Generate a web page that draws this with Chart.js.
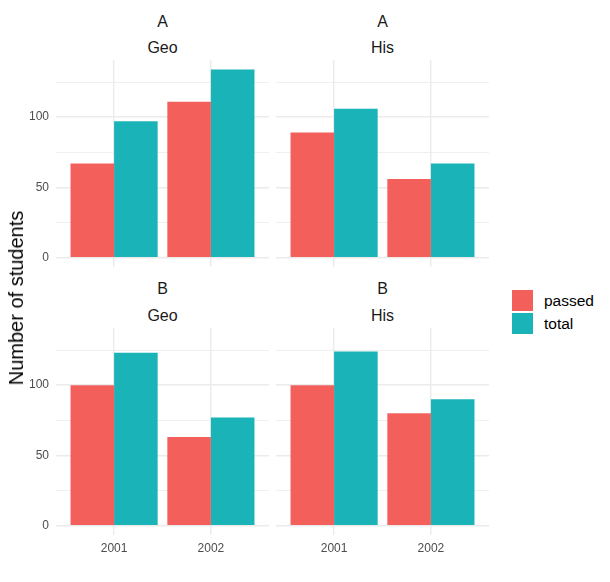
<!DOCTYPE html>
<html>
<head>
<meta charset="utf-8">
<script src="https://cdn.jsdelivr.net/npm/chart.js@4.4.1/dist/chart.umd.min.js"></script>
<style>
  body { margin: 0; background: #fff; font-family: 'Liberation Sans', Arial, sans-serif; }
  #wrap { position: relative; width: 610px; height: 582px; overflow: hidden; }
  canvas { position: absolute; }
  .strip { position: absolute; text-align: center; font-size: 16px; line-height: 16px; color: #1a1a1a; }
  #ytitle { position: absolute; left: 16px; top: 298px; font-size: 20px; line-height: 20px; color: #000;
            white-space: nowrap; transform: translate(-50%, -50%) rotate(-90deg); }
  #legend { position: absolute; left: 512px; top: 290px; }
  .key { display: flex; align-items: center; height: 21px; margin-bottom: 2px; font-size: 15.5px; color: #000; }
  .swatch { width: 21px; height: 21px; margin-right: 11px; }
</style>
</head>
<body>
<div id="wrap">
  <canvas id="aGeo" width="269" height="207" style="left:0;top:60px"></canvas>
  <canvas id="aHis" width="213" height="207" style="left:276px;top:60px"></canvas>
  <canvas id="bGeo" width="269" height="232" style="left:0;top:328px"></canvas>
  <canvas id="bHis" width="213" height="232" style="left:276px;top:328px"></canvas>

  <div class="strip" style="left:56px;width:213px;top:14px">A</div>
  <div class="strip" style="left:56px;width:213px;top:40px">Geo</div>
  <div class="strip" style="left:276px;width:213px;top:14px">A</div>
  <div class="strip" style="left:276px;width:213px;top:40px">His</div>
  <div class="strip" style="left:56px;width:213px;top:280.5px">B</div>
  <div class="strip" style="left:56px;width:213px;top:308px">Geo</div>
  <div class="strip" style="left:276px;width:213px;top:280.5px">B</div>
  <div class="strip" style="left:276px;width:213px;top:308px">His</div>

  <div id="ytitle">Number of students</div>
  <div id="legend"></div>
</div>
<script>
// data (school / subject)
const years = ['2001', '2002'];
const seriesNames = ['passed', 'total'];
const passedAGeo = [67, 111];
const totalAGeo = [97, 134];
const passedAHis = [89, 56];
const totalAHis = [106, 67];
const passedBGeo = [100, 63];
const totalBGeo = [123, 77];
const passedBHis = [100, 80];
const totalBHis = [124, 90];
const yGridValues = [0, 25, 50, 75, 100, 125];
const yTickLabels = [0, 50, 100];

const colors = ['#f3605c', '#19b3b8'];
const gridColor = '#ebebeb';
const yMax = 134 * 1.05;
const yMin = -134 * 0.05;

// chart.js pads the chart area for half of the edge labels; ggplot panels don't
function noEdgePadding(scale) {
    scale.paddingTop = 0;
    scale.paddingBottom = 0;
    scale.paddingLeft = 0;
    scale.paddingRight = 0;
}

function makePanel(id, passed, total, showY, showX) {
    const toPoints = (arr) => arr.map((v, i) => ({ x: i + 1, y: v }));
    return new Chart(document.getElementById(id), {
        type: 'bar',
        data: {
            datasets: [passed, total].map((arr, k) => ({
                label: seriesNames[k],
                data: toPoints(arr),
                backgroundColor: colors[k],
                borderWidth: 0,
                categoryPercentage: 0.9,
                barPercentage: 1,
            })),
        },
        options: {
            responsive: false,
            animation: false,
            layout: { padding: 0 },
            plugins: { legend: { display: false }, tooltip: { enabled: false } },
            scales: {
                x: {
                    type: 'linear',
                    min: 0.4,
                    max: 2.6,
                    offset: false,
                    bounds: 'data',
                    afterBuildTicks: (scale) => { scale.ticks = years.map((y, i) => ({ value: i + 1 })); },
                    afterFit: (scale) => { scale.height = showX ? 25 : 0; noEdgePadding(scale); },
                    border: { display: false },
                    grid: { color: gridColor, lineWidth: 1.4, drawTicks: false, offset: false },
                    ticks: {
                        display: showX,
                        padding: 6,
                        color: '#4d4d4d',
                        font: { family: 'Liberation Sans', size: 12 },
                        callback: (value) => years[value - 1],
                    },
                },
                y: {
                    min: yMin,
                    max: yMax,
                    bounds: 'data',
                    afterBuildTicks: (scale) => { scale.ticks = yGridValues.map((v) => ({ value: v })); },
                    afterFit: (scale) => { scale.width = showY ? 56 : 0; noEdgePadding(scale); },
                    border: { display: false },
                    grid: {
                        color: gridColor,
                        drawTicks: false,
                        lineWidth: (ctx) => (ctx.tick && yTickLabels.includes(ctx.tick.value) ? 1.4 : 0.8),
                    },
                    ticks: {
                        display: showY,
                        padding: 7,
                        color: '#4d4d4d',
                        font: { family: 'Liberation Sans', size: 12 },
                        callback: (value) => (yTickLabels.includes(value) ? String(value) : ''),
                    },
                },
            },
        },
    });
}

makePanel('aGeo', passedAGeo, totalAGeo, true, false);
makePanel('aHis', passedAHis, totalAHis, false, false);
makePanel('bGeo', passedBGeo, totalBGeo, true, true);
makePanel('bHis', passedBHis, totalBHis, false, true);

const legend = document.getElementById('legend');
seriesNames.forEach((name, k) => {
    const row = document.createElement('div');
    row.className = 'key';
    row.innerHTML = `<span class="swatch" style="background:${colors[k]}"></span>${name}`;
    legend.appendChild(row);
});
</script>
</body>
</html>
